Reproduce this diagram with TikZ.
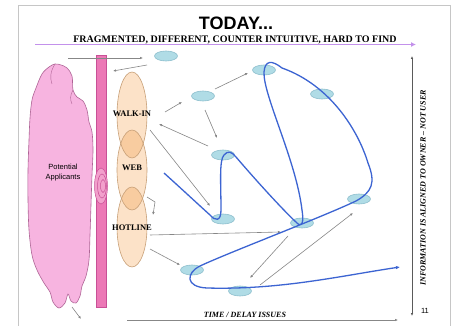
\documentclass[tikz,border=0pt]{standalone}
\usepackage{fontspec}
\setmainfont{Liberation Serif}
\newfontfamily\sansf{Liberation Sans}
\usetikzlibrary{shapes.geometric,arrows.meta}
\definecolor{cloudpink}{RGB}{247,180,224}
\definecolor{cloudline}{RGB}{175,100,150}
\definecolor{barpink}{RGB}{236,120,182}
\definecolor{barline}{RGB}{200,80,150}
\definecolor{tanfill}{RGB}{252,226,200}
\definecolor{tanline}{RGB}{200,160,120}
\definecolor{tandark}{RGB}{248,204,160}
\definecolor{bfill}{RGB}{176,220,230}
\definecolor{bline}{RGB}{140,190,205}
\definecolor{curveblue}{RGB}{60,100,210}
\definecolor{purp}{RGB}{195,145,235}
\definecolor{arrgray}{RGB}{135,135,135}
\definecolor{axisgray}{RGB}{90,90,90}
\begin{document}
\begin{tikzpicture}[x=1pt,y=-1pt,
  bell/.style={ellipse,draw=bline,fill=bfill,minimum width=23pt,minimum height=10pt,inner sep=0pt,line width=0.6pt},
  chan/.style={ellipse,fill=tanfill,minimum width=30pt,inner sep=0pt},
  chanedge/.style={draw=tanline,line width=0.6pt},
  garr/.style={draw=arrgray,line width=0.6pt,-{Latex[length=3pt,width=2.5pt,fill=axisgray]}},
  chanlbl/.style={font=\bfseries\fontsize{8.5}{10}\selectfont,inner sep=0pt,anchor=base},
  spir/.style={ellipse,draw=barline,fill=barpink!70,inner sep=0pt,line width=0.5pt},
  ]
\useasboundingbox (0,0) rectangle (455,326);
\fill[white] (0,0) rectangle (455,326);
% slide border
\draw[gray!45,line width=1pt] (18,330) -- (18,6) -- (450,6) -- (450,330);

% title
\node[font=\sansf\bfseries\fontsize{18}{20}\selectfont,anchor=base,inner sep=0pt] (title) at (236,30) {TODAY...};
\node[font=\bfseries\fontsize{10}{12}\selectfont,anchor=base,inner sep=0pt] (sub) at (235,42.5) {FRAGMENTED, DIFFERENT, COUNTER INTUITIVE, HARD TO FIND};
\coordinate (pa) at (35,44.5);
\coordinate (pb) at (416,44.5);
\draw[purp,line width=1.6pt,-{Latex[length=5pt,width=5pt]}] (pa) -- (pb);

% cloud
\draw[cloudline,fill=cloudpink,line width=0.6pt] plot[smooth cycle,tension=0.55] coordinates {
  (36,88) (42,74) (49,67) (55,64) (61,65) (67,68) (72,76) (73,90) (77,97) (83,101) (87,110) (89,122)
  (92,132) (93,150) (92,175) (91,205) (90,235) (89,260) (86,276) (82,286) (80,296) (76,303) (71,301)
  (68,294) (65,303) (59,308) (53,302) (50,292) (44,283) (37,270) (32,255) (29,230) (28,200) (28,170)
  (29,140) (30,118) (32,100)};
\draw[cloudline,line width=0.4pt] (55,64) .. controls (50,72) and (50,78) .. (52,84);
\draw[cloudline,line width=0.4pt] (73,90) .. controls (70,95) and (70,100) .. (72,104);
\node[font=\sansf\fontsize{7.5}{10}\selectfont,align=center,inner sep=0pt] (pot) at (63,173) {Potential\\Applicants};

% bar
\node[rectangle,draw=barline,fill=barpink,minimum width=10pt,minimum height=252pt,inner sep=0pt,line width=0.5pt] (bar) at (101,181) {};
\node[spir,minimum width=13pt,minimum height=36pt] (sp1) at (101,186) {};
\node[spir,minimum width=9pt,minimum height=24pt] (sp2) at (102,186) {};
\node[spir,minimum width=5pt,minimum height=13pt] (sp3) at (103,186) {};

% channels
\node[chan,minimum height=86pt] (t1) at (132,115) {};
\node[chan,minimum height=80pt] (t2) at (132,170) {};
\node[chan,minimum height=80pt] (t3) at (132,227) {};
\begin{scope}
  \clip (132,115) ellipse [x radius=15pt,y radius=43pt];
  \fill[tandark] (132,170) ellipse [x radius=15pt,y radius=40pt];
\end{scope}
\begin{scope}
  \clip (132,170) ellipse [x radius=15pt,y radius=40pt];
  \fill[tandark] (132,227) ellipse [x radius=15pt,y radius=40pt];
\end{scope}
\draw[chanedge] (132,115) ellipse [x radius=15pt,y radius=43pt];
\draw[chanedge] (132,170) ellipse [x radius=15pt,y radius=40pt];
\draw[chanedge] (132,227) ellipse [x radius=15pt,y radius=40pt];
\node[chanlbl] (walk) at (132,116.5) {WALK-IN};
\node[chanlbl] (web) at (132,171) {WEB};
\node[chanlbl] (hot) at (132,230) {HOTLINE};

% small ellipses
\node[bell] (e1) at (166,56) {};
\node[bell] (e2) at (264,70) {};
\node[bell] (e3) at (203,96) {};
\node[bell] (e4) at (322,94) {};
\node[bell] (e5) at (223,155) {};
\node[bell] (e6) at (223,219) {};
\node[bell] (e7) at (302,223) {};
\node[bell] (e8) at (359,199) {};
\node[bell] (e9) at (192,270) {};
\node[bell] (e10) at (240,291) {};

% gray connectors
\coordinate (c1s) at (68,58);   \coordinate (c1e) at (143,58);
\coordinate (c2s) at (147,65);  \coordinate (c2e) at (113,71);
\coordinate (c3s) at (165,112); \coordinate (c3e) at (182,102);
\coordinate (c4s) at (215,89);  \coordinate (c4e) at (248,73);
\coordinate (c5s) at (205,110); \coordinate (c5e) at (217,138);
\coordinate (c6s) at (208,146); \coordinate (c6e) at (159,124);
\coordinate (c7s) at (150,130); \coordinate (c7e) at (210,206);
\coordinate (c8s) at (147,197); \coordinate (c8m) at (155,202); \coordinate (c8e) at (153,215);
\coordinate (c9s) at (150,235); \coordinate (c9e) at (281,232);
\coordinate (c10s) at (150,249); \coordinate (c10e) at (180,265);
\coordinate (c11s) at (288,236); \coordinate (c11e) at (250,278);
\coordinate (c12s) at (260,285); \coordinate (c12e) at (353,213);
\coordinate (c13s) at (72,307); \coordinate (c13e) at (81,319);
\draw[garr] (c1s) -- (c1e);
\draw[garr] (c2s) -- (c2e);
\draw[garr] (c3s) -- (c3e);
\draw[garr] (c4s) -- (c4e);
\draw[garr] (c5s) -- (c5e);
\draw[garr] (c6s) -- (c6e);
\draw[garr] (c7s) -- (c7e);
\draw[garr] (c8s) -- (c8m) -- (c8e);
\draw[garr] (c9s) -- (c9e);
\draw[garr] (c10s) -- (c10e);
\draw[garr] (c11s) -- (c11e);
\draw[garr] (c12s) -- (c12e);
\draw[garr] (c13s) -- (c13e);

% blue path
\draw[curveblue,line width=1.3pt,-{Latex[length=4pt,width=3.5pt]}]
 (164,173) .. controls (185,192) and (200,206) .. (210,215)
 .. controls (215,221) and (221,222) .. (221,210)
 .. controls (221,185) and (219,160) .. (224,155)
 .. controls (228,150) and (232,152) .. (236,157)
 .. controls (260,185) and (285,212) .. (297,223)
 .. controls (302,228) and (304,222) .. (302,210)
 .. controls (296,160) and (263,95) .. (264,72)
 .. controls (265,60) and (272,60) .. (282,68)
 .. controls (330,85) and (358,130) .. (368,163)
 .. controls (376,183) and (372,192) .. (356,201)
 .. controls (320,218) and (230,252) .. (200,266)
 .. controls (186,273) and (185,287) .. (207,288)
 .. controls (280,290) and (340,276) .. (400,267);

% axes
\coordinate (ta) at (127,320); \coordinate (tb) at (398,320);
\draw[arrgray,line width=0.8pt,-{Latex[length=3pt,width=2.5pt,fill=axisgray]}] (ta) -- (tb);
\node[font=\bfseries\itshape\fontsize{8}{10}\selectfont,anchor=base,inner sep=0pt] (time) at (245,317) {TIME / DELAY ISSUES};
\coordinate (va) at (412,316); \coordinate (vb) at (412,56);
\draw[axisgray,line width=0.8pt,{Latex[length=3pt,width=2.5pt]}-{Latex[length=3pt,width=2.5pt]}] (va) -- (vb);
\node[font=\bfseries\itshape\fontsize{8}{10}\selectfont,rotate=90,inner sep=0pt] (info) at (423,188) {INFORMATION IS ALIGNED TO OWNER -- NOT USER};
\node[font=\sansf\fontsize{7.5}{9}\selectfont,inner sep=0pt] (pg) at (425,311) {11};
\end{tikzpicture}
\end{document}
